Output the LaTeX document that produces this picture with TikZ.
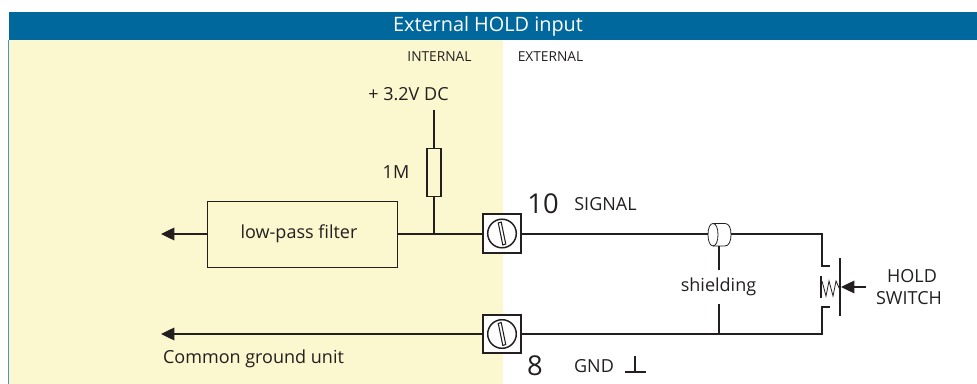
\documentclass[tikz,border=0pt]{standalone}
\usepackage{fontspec}
\setmainfont{Open Sans}
\usetikzlibrary{arrows.meta}
\definecolor{banner}{HTML}{00689D}
\definecolor{internal}{HTML}{FBF7CE}
\definecolor{ink}{HTML}{231F20}
\tikzset{
  wire/.style={draw=ink,line width=1pt},
  thin wire/.style={draw=ink,line width=0.6pt},
  feed/.style={wire,-{Triangle[length=10pt,width=9.5pt]}},
  terminal/.style={draw=ink,line width=1.3pt,fill=white,minimum width=29pt,minimum height=29pt,inner sep=0pt},
  lbl/.style={text=ink,inner sep=0pt,font=\fontsize{13.5}{16}\selectfont},
  small/.style={text=ink,inner sep=0pt,font=\fontsize{10.3}{12}\selectfont},
  big/.style={text=ink,inner sep=0pt,font=\fontsize{20.5}{23}\selectfont},
}
\begin{document}
\begin{tikzpicture}[x=0.75pt,y=-0.75pt]
\useasboundingbox (0,0) rectangle (977,384);
\fill[internal] (9,40) rectangle (503,384);
\fill[banner] (9,12) rectangle (977,40);
\draw[banner!70!white,line width=0.8pt] (8.5,40) -- (8.5,384);
\node[text=white,inner sep=0pt,font=\fontsize{14.9}{17}\selectfont] (title) at (488,26) {External HOLD input};
\node[small] (int) at (439.5,57) {INTERNAL};
\node[small] (ext) at (550.5,57) {EXTERNAL};
\node[lbl] (vcc) at (408.5,94) {+ 3.2V DC};
\coordinate (vtop) at (434,110);
\node[draw=ink,line width=0.8pt,fill=none,minimum width=10.5pt,minimum height=36.5pt,inner sep=0pt] (res) at (434,172.5) {};
\node[lbl] (rv) at (396,172) {1M};
\node[draw=ink,line width=0.6pt,minimum width=142.5pt,minimum height=49.5pt,inner sep=0pt] (lpf) at (302,234) {};
\node[lbl] at (299,234) {low-pass filter};
\node[terminal] (t1) at (502,233.5) {};
\node[terminal] (t2) at (502,334) {};
\foreach \n in {t1,t2}{
  \draw[ink,line width=1.1pt,fill=white] (\n) circle (14.3);
  \draw[ink,line width=0.8pt,fill=white] ([xshift=-2.8pt,yshift=7.9pt]\n.center) -- ([xshift=-0.6pt,yshift=8.6pt]\n.center) -- ([xshift=2.8pt,yshift=-7.9pt]\n.center) -- ([xshift=0.6pt,yshift=-8.6pt]\n.center) -- cycle;
}
\coordinate (junc) at (434,234);
\coordinate (out1) at (161,234);
\coordinate (out2) at (161,334);
\draw[wire] (vtop) -- (res.north);
\draw[wire] (res.south) -- (junc);
\draw[wire] (lpf.east |- junc) -- (t1.west |- junc);
\draw[feed] (lpf.west) -- (out1);
\draw[feed] (t2.west) -- (out2);
\node[lbl] (cgu) at (253.5,359) {Common ground unit};
\node[big] (n10) at (543,204) {10};
\node[lbl] (sig) at (605.5,204) {SIGNAL};
\node[big] (n8) at (535,366) {8};
\node[lbl] (gnd) at (594,366) {GND};
\coordinate (g1) at (625,372);\coordinate (g2) at (646,372);\coordinate (g3) at (635,356);
\draw[wire] (g1) -- (g2) (g3) -- (g3 |- g1);
% shield
\coordinate (cylL) at (708,234);
\coordinate (cylR) at (731,234);
\draw[wire] (t1.east |- cylL) -- (cylL);
\draw[thin wire] (713,223.5) -- (725,223.5) .. controls (729,223.5) and (731,228) .. (731,234.7) .. controls (731,241) and (729,246) .. (725,246) -- (713,246);
\draw[thin wire] (713,223.5) .. controls (710,223.5) and (708,228) .. (708,234.7) .. controls (708,241) and (710,246) .. (713,246) .. controls (716,246) and (718,241) .. (718,234.7) .. controls (718,228) and (716,223.5) .. (713,223.5) -- cycle;
\coordinate (tr) at (822,234);
\coordinate (br) at (822,334);
\draw[wire] (cylR) -- (tr) -- (822,266) -- (830,266);
\draw[wire] (t2.east) -- (br) -- (822,307) -- (830,307);
\draw[wire] (719,246) -- (719,270);
\draw[wire] (719,304) -- (719,334);
\node[lbl] (sh) at (718.5,287) {shielding};
\draw[wire] (821,276) -- (821,298);
\draw[wire,line width=1.2pt] (840,258) -- (840,316);
\draw[thin wire] (822,281) -- (826,296) -- (829,281) -- (833,296) -- (836,281) -- (840,290);
\node[lbl] (hold) at (912,276) {HOLD};
\node[lbl] (sw) at (909,298) {SWITCH};
\coordinate (btn) at (866,287);
\draw[feed] (btn) -- (841,287);
\end{tikzpicture}
\end{document}
